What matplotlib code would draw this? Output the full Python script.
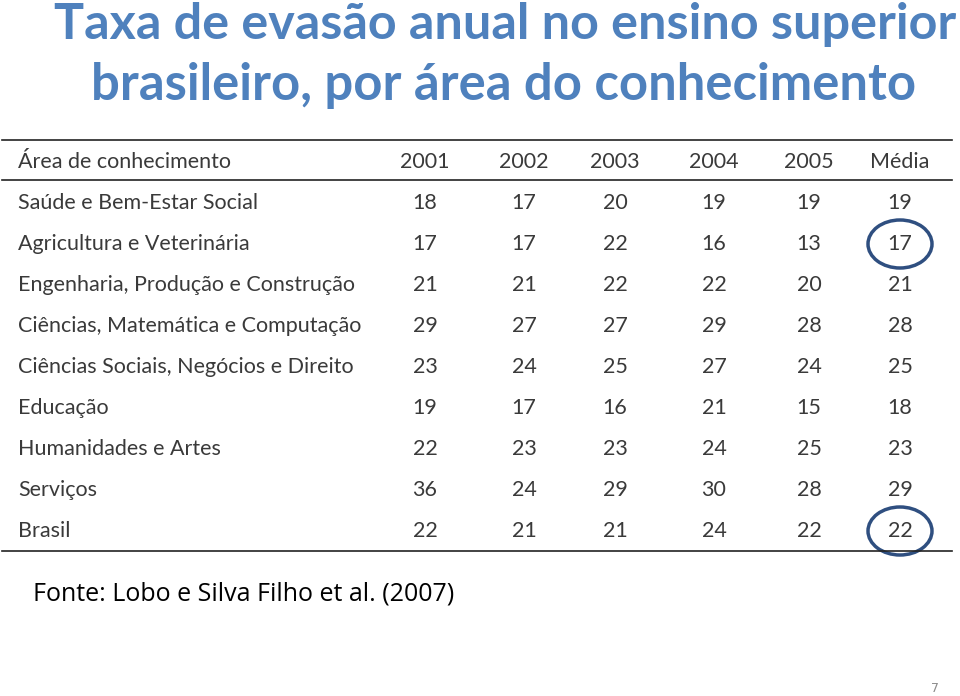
import matplotlib.pyplot as plt
from matplotlib.patches import Ellipse

# table data
years = ["2001", "2002", "2003", "2004", "2005", "Média"]
areas = [
    "Saúde e Bem-Estar Social",
    "Agricultura e Veterinária",
    "Engenharia, Produção e Construção",
    "Ciências, Matemática e Computação",
    "Ciências Sociais, Negócios e Direito",
    "Educação",
    "Humanidades e Artes",
    "Serviços",
    "Brasil",
]
values = [
    [18, 17, 20, 19, 19, 19],
    [17, 17, 22, 16, 13, 17],
    [21, 21, 22, 22, 20, 21],
    [29, 27, 27, 29, 28, 28],
    [23, 24, 25, 27, 24, 25],
    [19, 17, 16, 21, 15, 18],
    [22, 23, 23, 24, 25, 23],
    [36, 24, 29, 30, 28, 29],
    [22, 21, 21, 24, 22, 22],
]
circled = [(1, 5), (8, 5)]  # (row, col) highlighted

title_lines = ["Taxa de evasão anual no ensino superior",
               "brasileiro, por área do conhecimento"]
source = "Fonte: Lobo e Silva Filho et al. (2007)"

fig = plt.figure(figsize=(9.6, 6.96), dpi=100)
ax = fig.add_axes([0, 0, 1, 1])
ax.set_xlim(0, 960)
ax.set_ylim(696, 0)
ax.axis("off")

blue = "#4F81BD"
txt = "#3A3A3A"
tfont = "Lato"

ax.text(505, 39, title_lines[0], ha="center", va="baseline", fontsize=36.2,
        fontweight="bold", color=blue, family="Lato")
ax.text(504, 100, title_lines[1], ha="center", va="baseline", fontsize=36.5,
        fontweight="bold", color=blue, family="Lato")

col_x = [425, 524, 615, 714, 809, 900]
label_x = 18
header_y = 162
row_y0 = 203
row_h = 41

ax.plot([2, 952], [140, 140], color="#222222", lw=1.2)
ax.plot([2, 952], [180, 180], color="#222222", lw=1.2)
ax.plot([2, 952], [551, 551], color="#222222", lw=1.2)

ax.text(label_x, header_y, "Área de conhecimento", ha="left", va="center",
        fontsize=15.5, color=txt, family=tfont)
for x, y in zip(col_x, years):
    ax.text(x, header_y, y, ha="center", va="center", fontsize=15.5, color=txt,
            family=tfont)

for i, (area, row) in enumerate(zip(areas, values)):
    y = row_y0 + i * row_h
    ax.text(label_x, y, area, ha="left", va="center", fontsize=15.5, color=txt,
            family=tfont)
    for x, v in zip(col_x, row):
        ax.text(x, y, str(v), ha="center", va="center", fontsize=15.5,
                color=txt, family=tfont)

for r, c in circled:
    ax.add_patch(Ellipse((col_x[c], row_y0 + r * row_h), 64, 48, fill=False,
                         edgecolor="#2F4F80", lw=2.5))

ax.text(33, 594, source, ha="left", va="center", fontsize=18, color="black",
        family="Open Sans")
ax.text(935, 688, "7", ha="center", va="center", fontsize=9, color="#8C8C8C")

fig.savefig("out.png", dpi=100)
